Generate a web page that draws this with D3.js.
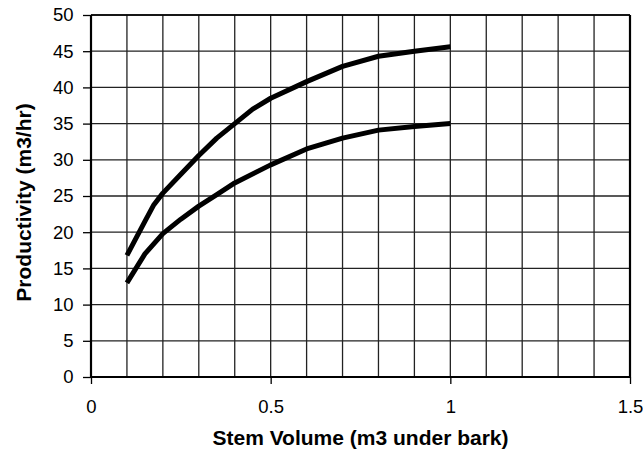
<!DOCTYPE html>
<html><head><meta charset="utf-8">
<script src="https://cdn.jsdelivr.net/npm/d3@7"></script>
<style>body{margin:0;background:#fff}svg{display:block}text{font-family:"Liberation Sans",Arial,sans-serif;fill:#000}</style>
</head><body><svg id="c" width="643" height="450"></svg>
<script>
const xUpper = [0.1,0.15,0.175,0.2,0.25,0.3,0.35,0.4,0.45,0.5,0.6,0.7,0.8,0.9,1.0];
const yUpper = [16.8,21.5,23.8,25.4,28,30.6,33,35,37,38.5,40.8,42.9,44.3,45.0,45.6];
const xLower = [0.1,0.15,0.2,0.25,0.3,0.35,0.4,0.5,0.6,0.7,0.8,0.9,1.0];
const yLower = [13,17,19.8,21.8,23.6,25.2,26.8,29.3,31.5,33.0,34.1,34.6,35.0];
const xTicks = [0,0.5,1,1.5];
const xTickLabels = ["0","0.5","1","1.5"];
const xGrid = d3.range(0,16).map(i=>i/10);
const yTicks = [0,5,10,15,20,25,30,35,40,45,50];
const xTitle = "Stem Volume (m3 under bark)";
const yTitle = "Productivity (m3/hr)";

const svg = d3.select("#c");
const L=91,R=630,T=15,B=377;
const x = d3.scaleLinear().domain([0,1.5]).range([L,R]);
const y = d3.scaleLinear().domain([0,50]).range([B,T]);

// grid
svg.append("g").selectAll("line").data(xGrid.slice(1)).join("line")
  .attr("x1",d=>x(d)).attr("x2",d=>x(d)).attr("y1",T).attr("y2",B)
  .attr("stroke","#222").attr("stroke-width",1.3);
svg.append("g").selectAll("line").data(yTicks.slice(1)).join("line")
  .attr("x1",L).attr("x2",R).attr("y1",d=>y(d)).attr("y2",d=>y(d))
  .attr("stroke","#222").attr("stroke-width",1.3);
// frame
svg.append("line").attr("x1",L).attr("x2",R).attr("y1",T).attr("y2",T).attr("stroke","#000").attr("stroke-width",1.5);
svg.append("line").attr("x1",R).attr("x2",R).attr("y1",T).attr("y2",B).attr("stroke","#000").attr("stroke-width",2.2);

// axes
const ya = svg.append("g").attr("transform",`translate(${L},0)`)
  .call(d3.axisLeft(y).tickValues(yTicks).tickSize(8).tickPadding(9.5));
const xa = svg.append("g").attr("transform",`translate(0,${B})`)
  .call(d3.axisBottom(x).tickValues(xTicks).tickFormat((d,i)=>xTickLabels[i]).tickSize(7).tickPadding(16));
[ya,xa].forEach(g=>{
  g.select(".domain").attr("stroke","#000").attr("stroke-width",2.2);
  g.selectAll(".tick line").attr("stroke","#000").attr("stroke-width",1.3);
  g.selectAll("text").style("font-size","18.5px").attr("fill","#000");
});
ya.select(".domain").attr("d",`M0,${T}V${B}`);
xa.select(".domain").attr("d",`M${L},0H${R}`);

// lines
const line = d3.line().x(d=>x(d[0])).y(d=>y(d[1]));
[[xUpper,yUpper],[xLower,yLower]].forEach(([xs,ys])=>{
  svg.append("path").datum(xs.map((v,i)=>[v,ys[i]])).attr("d",line)
    .attr("fill","none").attr("stroke","#000").attr("stroke-width",5)
    .attr("stroke-linejoin","round");
});

svg.append("text").attr("x",(L+R)/2).attr("y",445).attr("text-anchor","middle")
  .style("font-size","21px").style("font-weight","bold").text(xTitle);
svg.append("text").attr("transform",`translate(31,202.5) rotate(-90)`).attr("text-anchor","middle")
  .style("font-size","21px").style("font-weight","bold").text(yTitle);
</script></body></html>
